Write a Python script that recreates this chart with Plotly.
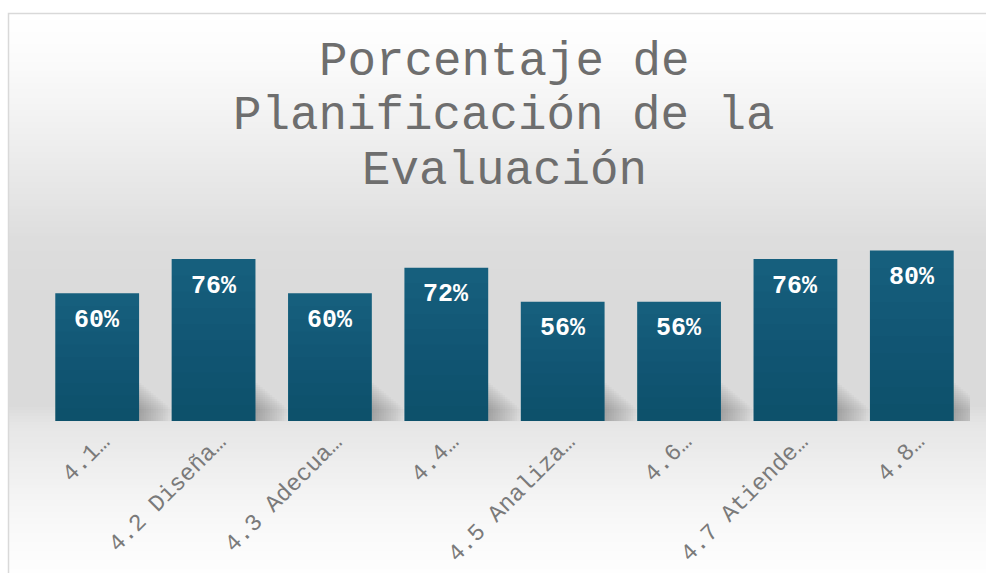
import plotly.graph_objects as go

# ---- data ----
categories = ["4.1…", "4.2 Diseña…", "4.3 Adecua…", "4.4…",
              "4.5 Analiza…", "4.6…", "4.7 Atiende…", "4.8…"]
values = [60, 76, 60, 72, 56, 56, 76, 80]
title_lines = ["Porcentaje de", "Planificación de la", "Evaluación"]

# ---- geometry ----
W, H = 986, 573
ML, MR, MT, MB = 39, 16, 208, 152
PW, PH = W - ML - MR, H - MT - MB
YMAX = 100
BAR_W = 0.72


def px2x(px):
    return (px - ML) / PW


def px2y(py):
    return (H - MB - py) / PH


UNIT_PX = PH / YMAX          # pixels per value unit
CAT_PX = PW / len(categories)  # pixels per category

FONT = "Liberation Mono, Courier New, monospace"

fig = go.Figure()
fig.add_trace(go.Bar(
    x=list(range(len(categories))), y=values,
    marker=dict(color="#17617f", line=dict(width=0)),
    width=BAR_W,
    hoverinfo="skip",
))

shapes = []
# background vertical gradient inside the chart border
stops = [(14, 255), (60, 251), (120, 242), (180, 232), (240, 221),
         (300, 218), (405, 218), (425, 230), (470, 239), (520, 248), (573, 254)]


def gray_at(y):
    for (y0, g0), (y1, g1) in zip(stops[:-1], stops[1:]):
        if y0 <= y <= y1:
            t = (y - y0) / (y1 - y0)
            return g0 + (g1 - g0) * t
    return stops[-1][1]


step = 3
y = 14
while y < H:
    g = int(round(gray_at(y + step / 2)))
    shapes.append(dict(type="rect", xref="paper", yref="paper",
                       x0=px2x(9), x1=px2x(W + 5), y0=px2y(min(y + step + 0.5, H + 5)), y1=px2y(y),
                       fillcolor=f"rgb({g},{g},{g})", line=dict(width=0), layer="below"))
    y += step

# soft shadows at the base of the bars
NS = 14
for i, v in enumerate(values):
    for k in range(1, NS + 1):
        shapes.append(dict(type="rect", xref="x", yref="y",
                           x0=i, x1=i + BAR_W / 2 + (2.4 * k) / CAT_PX,
                           y0=0, y1=(40 - 2.0 * k) / UNIT_PX,
                           fillcolor="black", opacity=0.02,
                           line=dict(width=0), layer="below"))

# vertical shading on the bars (lighter at top, darker at bottom)
NB = 10
for i, v in enumerate(values):
    for j in range(1, NB + 1):
        shapes.append(dict(type="rect", xref="x", yref="y",
                           x0=i - BAR_W / 2, x1=i + BAR_W / 2,
                           y0=0, y1=v * j / NB,
                           fillcolor="black", opacity=0.013,
                           line=dict(width=0), layer="above"))

# chart border
shapes.append(dict(type="rect", xref="paper", yref="paper",
                   x0=px2x(8.5), x1=px2x(W + 10), y0=px2y(H + 10), y1=px2y(13.5),
                   fillcolor="rgba(0,0,0,0)", line=dict(color="#d9d9d9", width=1.5),
                   layer="above"))

annotations = []
# title lines
for line, cy in zip(title_lines, [62, 116, 171]):
    annotations.append(dict(text=line, xref="paper", yref="paper",
                            x=px2x(504), y=px2y(cy), xanchor="center", yanchor="middle",
                            showarrow=False,
                            font=dict(family=FONT, size=47.5, color="#6e6e6e")))
# data labels
for i, v in enumerate(values):
    annotations.append(dict(text=f"{v}%", x=i, y=v, xref="x", yref="y",
                            yshift=-27, yanchor="middle", showarrow=False,
                            font=dict(family=FONT, size=25, color="white", weight="bold")))
# category labels (rotated)
for i, c in enumerate(categories):
    annotations.append(dict(text=c, x=i, y=0, xref="x", yref="y",
                            xanchor="right", yanchor="top", xshift=21, yshift=-5,
                            textangle=-45, showarrow=False,
                            font=dict(family=FONT, size=23.5, color="#7a7a7a")))

fig.update_layout(
    width=W, height=H,
    margin=dict(l=ML, r=MR, t=MT, b=MB, pad=0),
    paper_bgcolor="white", plot_bgcolor="rgba(0,0,0,0)",
    showlegend=False,
    shapes=shapes, annotations=annotations,
    xaxis=dict(showgrid=False, showline=False, zeroline=False, ticks="",
               showticklabels=False, range=[-0.5, len(categories) - 0.5]),
    yaxis=dict(visible=False, range=[0, YMAX], showgrid=False, zeroline=False),
)

fig.write_html("out.html",
               config={"displayModeBar": False},
               post_script="document.body.style.margin='0';"
                           "document.body.style.overflow='hidden';")
